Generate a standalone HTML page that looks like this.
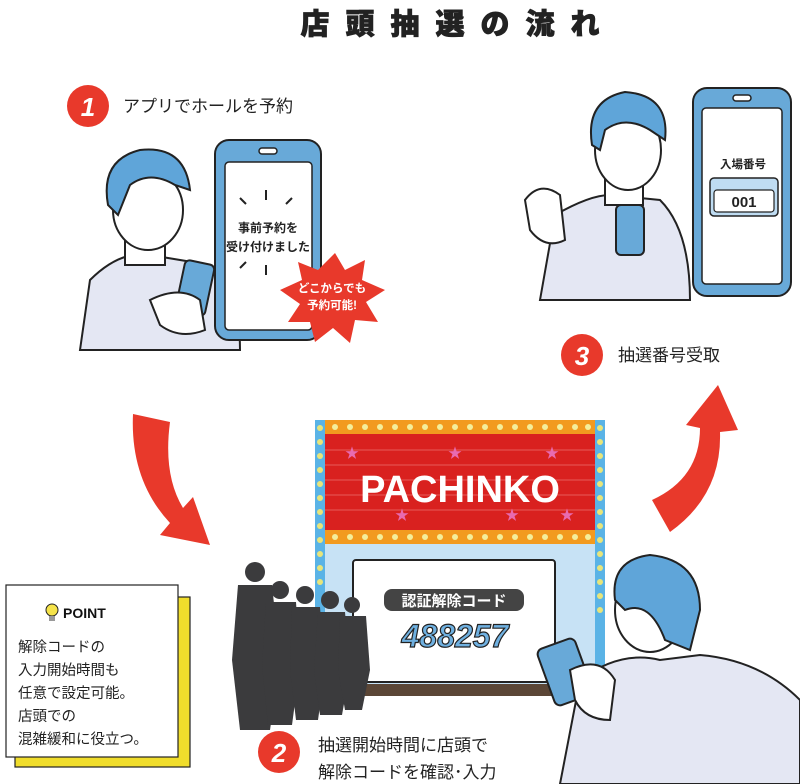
<!DOCTYPE html>
<html><head><meta charset="utf-8"><style>
body{margin:0;background:#fff}
svg{display:block}
text{font-family:"Liberation Sans","Noto Sans CJK JP",sans-serif}
</style></head><body>
<svg width="800" height="784" viewBox="0 0 800 784" xmlns="http://www.w3.org/2000/svg">
<!-- title -->
<text x="458" y="34" text-anchor="middle" font-size="29" font-weight="900" fill="#222" letter-spacing="16" stroke="#222" stroke-width="0.8">店頭抽選の流れ</text>

<!-- step1 -->
<circle cx="88" cy="106" r="21" fill="#e8392b"/>
<text x="88" y="116" text-anchor="middle" font-size="26" font-weight="bold" fill="#fff" font-style="italic">1</text>
<text x="123" y="112" font-size="17" fill="#222">アプリでホールを予約</text>

<!-- person1 -->
<path d="M80 350 L90 280 Q120 250 150 255 L210 265 Q240 290 240 350 Z" fill="#e4e7f3" stroke="#222" stroke-width="2"/>
<rect x="125" y="225" width="40" height="40" fill="#fff" stroke="#222" stroke-width="2"/>
<ellipse cx="148" cy="210" rx="35" ry="40" fill="#fff" stroke="#222" stroke-width="2"/>
<path d="M108 205 Q100 160 140 150 Q185 145 190 190 L175 185 Q150 170 130 185 L118 215 Z" fill="#5fa5d9" stroke="#222" stroke-width="2"/>
<rect x="180" y="262" width="30" height="52" rx="5" fill="#68a9d8" stroke="#222" stroke-width="2" transform="rotate(12 195 288)"/>
<path d="M150 300 Q180 285 200 300 L205 330 Q180 340 160 325 Z" fill="#fff" stroke="#222" stroke-width="2"/>

<!-- phone1 -->
<rect x="215" y="140" width="106" height="200" rx="14" fill="#68a9d8" stroke="#222" stroke-width="2"/>
<rect x="225" y="162" width="87" height="168" rx="4" fill="#fff" stroke="#222" stroke-width="1.5"/>
<rect x="259" y="148" width="18" height="6" rx="3" fill="#fff" stroke="#222" stroke-width="1.5"/>
<text x="268" y="232" text-anchor="middle" font-size="12" font-weight="bold" fill="#222">事前予約を</text>
<text x="268" y="251" text-anchor="middle" font-size="12" font-weight="bold" fill="#222">受け付けました</text>
<g stroke="#222" stroke-width="2"><line x1="266" y1="190" x2="266" y2="200"/><line x1="240" y1="198" x2="246" y2="204"/><line x1="292" y1="198" x2="286" y2="204"/><line x1="266" y1="265" x2="266" y2="275"/><line x1="240" y1="268" x2="246" y2="262"/></g>
<!-- starburst -->
<polygon points="335,253 345,270 365,260 362,280 385,290 366,302 378,322 355,320 350,343 333,328 315,342 310,322 288,322 300,304 280,290 302,280 298,262 318,270" fill="#e8392b"/>
<text x="332" y="292" text-anchor="middle" font-size="11.5" font-weight="bold" fill="#fff">どこからでも</text>
<text x="332" y="309" text-anchor="middle" font-size="11.5" font-weight="bold" fill="#fff">予約可能!</text>

<!-- person3 -->
<path d="M540 300 L555 215 Q590 195 610 195 L660 200 Q690 230 690 300 Z" fill="#e4e7f3" stroke="#222" stroke-width="2"/>
<rect x="605" y="165" width="38" height="40" fill="#fff" stroke="#222" stroke-width="2"/>
<ellipse cx="628" cy="150" rx="33" ry="40" fill="#fff" stroke="#222" stroke-width="2"/>
<path d="M592 145 Q585 100 625 92 Q670 95 665 140 L650 130 Q625 115 605 130 L600 150 Z" fill="#5fa5d9" stroke="#222" stroke-width="2"/>
<rect x="616" y="205" width="28" height="50" rx="5" fill="#68a9d8" stroke="#222" stroke-width="2"/>
<path d="M525 200 Q540 180 560 195 L565 240 Q545 250 530 230 Z" fill="#fff" stroke="#222" stroke-width="2"/>
<!-- phone3 -->
<rect x="693" y="88" width="98" height="208" rx="14" fill="#68a9d8" stroke="#222" stroke-width="2"/>
<rect x="702" y="108" width="80" height="176" rx="4" fill="#fff" stroke="#222" stroke-width="1.5"/>
<rect x="733" y="95" width="18" height="6" rx="3" fill="#fff" stroke="#222" stroke-width="1.5"/>
<text x="743" y="168" text-anchor="middle" font-size="11.5" font-weight="bold" fill="#222">入場番号</text>
<rect x="710" y="178" width="68" height="38" rx="4" fill="#bfdcf2" stroke="#222" stroke-width="1.5"/>
<rect x="714" y="190" width="60" height="22" rx="3" fill="#fff" stroke="#222" stroke-width="1.2"/>
<text x="744" y="207" text-anchor="middle" font-size="15" font-weight="bold" fill="#222">001</text>

<!-- step3 -->
<circle cx="582" cy="355" r="21" fill="#e8392b"/>
<text x="582" y="365" text-anchor="middle" font-size="26" font-weight="bold" fill="#fff" font-style="italic">3</text>
<text x="618" y="361" font-size="17" fill="#222">抽選番号受取</text>

<!-- arrows -->
<path d="M133 414 L170 422 Q163 475 183 508 L193 497 L210 545 L160 535 L170 523 Q130 480 133 414 Z" fill="#e8392b"/>
<path d="M652 500 L670 532 Q722 495 720 432 L738 430 L718 385 L686 425 L700 428 Q700 478 652 500 Z" fill="#e8392b"/>

<!-- pachinko -->
<rect x="315" y="420" width="290" height="270" fill="#5ab3e6"/>
<rect x="325" y="420" width="270" height="14" fill="#f29a1f"/>
<rect x="325" y="434" width="270" height="96" fill="#d9211f"/>
<g stroke="#e85a5a" stroke-width="1"><line x1="325" y1="450" x2="595" y2="450"/><line x1="325" y1="465" x2="595" y2="465"/><line x1="325" y1="480" x2="595" y2="480"/><line x1="325" y1="495" x2="595" y2="495"/><line x1="325" y1="510" x2="595" y2="510"/></g>
<rect x="325" y="530" width="270" height="14" fill="#f29a1f"/>
<rect x="325" y="544" width="270" height="140" fill="#c7e2f5"/>
<text x="460" y="502" text-anchor="middle" font-size="38" font-weight="900" fill="#fff">PACHINKO</text>
<g fill="#e86bb0" font-size="14"><text x="345" y="458">★</text><text x="448" y="458">★</text><text x="545" y="458">★</text><text x="395" y="520">★</text><text x="505" y="520">★</text><text x="560" y="520">★</text></g>
<g fill="#e8e57a">
<circle cx="320" cy="428" r="3"/><circle cx="320" cy="442" r="3"/><circle cx="320" cy="456" r="3"/><circle cx="320" cy="470" r="3"/><circle cx="320" cy="484" r="3"/><circle cx="320" cy="498" r="3"/><circle cx="320" cy="512" r="3"/><circle cx="320" cy="526" r="3"/><circle cx="320" cy="540" r="3"/><circle cx="320" cy="554" r="3"/><circle cx="320" cy="568" r="3"/><circle cx="320" cy="582" r="3"/>
<circle cx="600" cy="428" r="3"/><circle cx="600" cy="442" r="3"/><circle cx="600" cy="456" r="3"/><circle cx="600" cy="470" r="3"/><circle cx="600" cy="484" r="3"/><circle cx="600" cy="498" r="3"/><circle cx="600" cy="512" r="3"/><circle cx="600" cy="526" r="3"/><circle cx="600" cy="540" r="3"/><circle cx="600" cy="554" r="3"/><circle cx="600" cy="568" r="3"/><circle cx="600" cy="582" r="3"/><circle cx="600" cy="596" r="3"/><circle cx="600" cy="610" r="3"/>
</g>
<g fill="#f4ee9a">
<circle cx="335" cy="427" r="3"/><circle cx="350" cy="427" r="3"/><circle cx="365" cy="427" r="3"/><circle cx="380" cy="427" r="3"/><circle cx="395" cy="427" r="3"/><circle cx="410" cy="427" r="3"/><circle cx="425" cy="427" r="3"/><circle cx="440" cy="427" r="3"/><circle cx="455" cy="427" r="3"/><circle cx="470" cy="427" r="3"/><circle cx="485" cy="427" r="3"/><circle cx="500" cy="427" r="3"/><circle cx="515" cy="427" r="3"/><circle cx="530" cy="427" r="3"/><circle cx="545" cy="427" r="3"/><circle cx="560" cy="427" r="3"/><circle cx="575" cy="427" r="3"/><circle cx="588" cy="427" r="3"/>
<circle cx="335" cy="537" r="3"/><circle cx="350" cy="537" r="3"/><circle cx="365" cy="537" r="3"/><circle cx="380" cy="537" r="3"/><circle cx="395" cy="537" r="3"/><circle cx="410" cy="537" r="3"/><circle cx="425" cy="537" r="3"/><circle cx="440" cy="537" r="3"/><circle cx="455" cy="537" r="3"/><circle cx="470" cy="537" r="3"/><circle cx="485" cy="537" r="3"/><circle cx="500" cy="537" r="3"/><circle cx="515" cy="537" r="3"/><circle cx="530" cy="537" r="3"/><circle cx="545" cy="537" r="3"/><circle cx="560" cy="537" r="3"/><circle cx="575" cy="537" r="3"/><circle cx="588" cy="537" r="3"/>
</g>
<rect x="315" y="684" width="290" height="12" fill="#5b4636"/>
<rect x="353" y="560" width="202" height="122" rx="3" fill="#fff" stroke="#222" stroke-width="2"/>
<rect x="384" y="589" width="140" height="22" rx="8" fill="#444"/>
<text x="454" y="606" text-anchor="middle" font-size="15" font-weight="bold" fill="#fff">認証解除コード</text>
<text x="455" y="647" text-anchor="middle" font-size="32" font-weight="900" fill="#6fb0e0" stroke="#222" stroke-width="1.2" font-style="italic">488257</text>

<!-- silhouettes -->
<g fill="#3b3b3d">
<circle cx="255" cy="572" r="10"/><path d="M238 585 L272 585 L280 660 L270 730 L240 730 L232 660 Z"/>
<circle cx="280" cy="590" r="9"/><path d="M266 602 L296 602 L300 665 L292 725 L268 725 L262 665 Z"/>
<circle cx="305" cy="595" r="9"/><path d="M292 607 L320 607 L325 670 L318 720 L296 720 L290 670 Z"/>
<circle cx="330" cy="600" r="9"/><path d="M318 612 L345 612 L350 670 L342 715 L320 715 L314 670 Z"/>
<circle cx="352" cy="605" r="8"/><path d="M340 616 L366 616 L370 670 L362 710 L345 710 L338 670 Z"/>
</g>

<!-- person2 -->
<path d="M560 784 L580 680 Q620 650 660 660 L700 655 Q760 660 800 700 L800 784 Z" fill="#e4e7f3" stroke="#222" stroke-width="2"/>
<ellipse cx="650" cy="610" rx="35" ry="42" fill="#fff" stroke="#222" stroke-width="2"/>
<path d="M615 600 Q610 560 650 555 Q700 560 700 610 L690 650 L665 640 Q650 600 625 610 Z" fill="#5fa5d9" stroke="#222" stroke-width="2"/>
<rect x="545" y="642" width="40" height="60" rx="6" fill="#68a9d8" stroke="#222" stroke-width="2" transform="rotate(-20 565 672)"/>
<path d="M570 670 Q600 655 615 680 L610 720 Q585 720 575 700 Z" fill="#fff" stroke="#222" stroke-width="2"/>

<!-- POINT box -->
<rect x="15" y="597" width="175" height="170" fill="#f0dd2c" stroke="#222" stroke-width="1.2"/>
<rect x="6" y="585" width="172" height="172" fill="#fff" stroke="#222" stroke-width="1.2"/>
<circle cx="52" cy="610" r="6" fill="#f5e34a" stroke="#222" stroke-width="1"/>
<rect x="49" y="616" width="6" height="5" fill="#999"/>
<text x="63" y="618" font-size="14" font-weight="bold" fill="#111">POINT</text>
<g font-size="14.5" fill="#222">
<text x="18" y="652">解除コードの</text>
<text x="18" y="675">入力開始時間も</text>
<text x="18" y="698">任意で設定可能。</text>
<text x="18" y="721">店頭での</text>
<text x="18" y="744">混雑緩和に役立つ。</text>
</g>

<!-- step2 -->
<circle cx="279" cy="752" r="21" fill="#e8392b"/>
<text x="279" y="762" text-anchor="middle" font-size="26" font-weight="bold" fill="#fff" font-style="italic">2</text>
<text x="318" y="751" font-size="17" fill="#222">抽選開始時間に店頭で</text>
<text x="318" y="778" font-size="17" fill="#222">解除コードを確認･入力</text>
</svg>
</body></html>
